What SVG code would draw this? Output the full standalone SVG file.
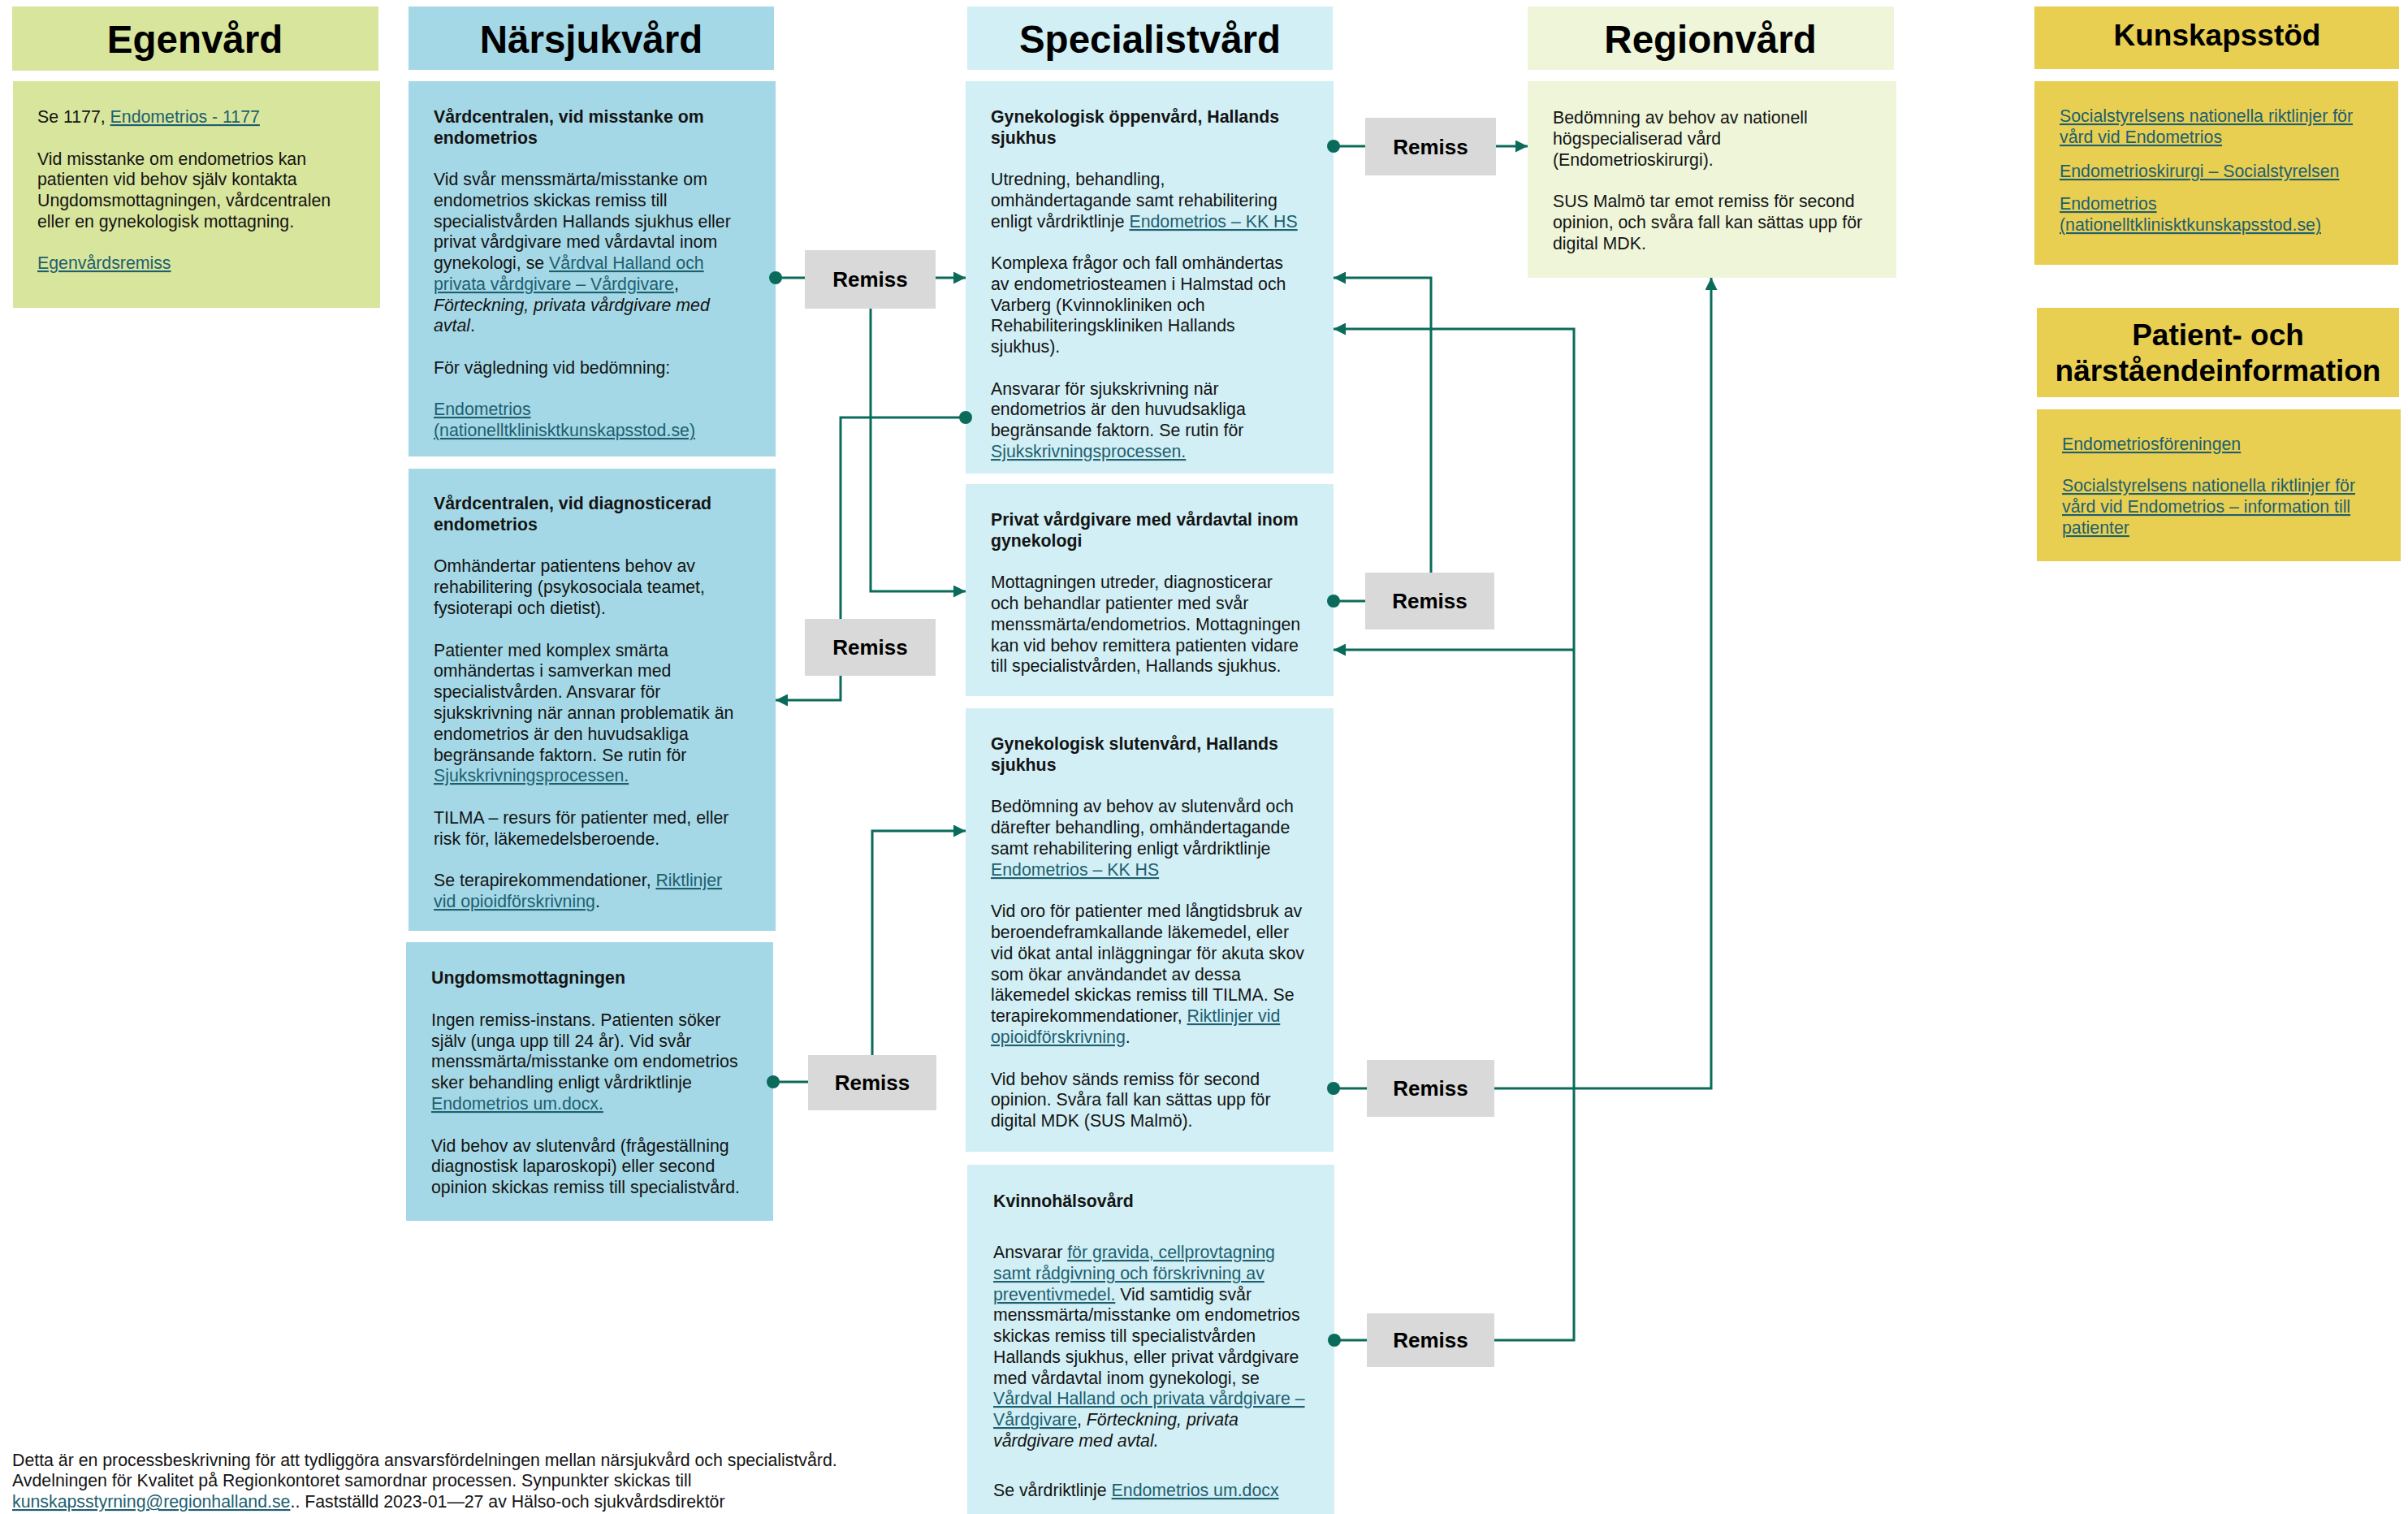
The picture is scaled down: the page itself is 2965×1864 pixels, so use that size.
<svg xmlns="http://www.w3.org/2000/svg" width="2965" height="1864" viewBox="0 0 2965 1864">
<style>
.t{font-family:"Liberation Sans",Arial,sans-serif;font-size:21.3px;fill:#141414}
.b{font-weight:bold}
.i{font-style:italic}
.l{fill:#1E5F70;text-decoration:underline}
.h{font-family:"Liberation Sans",Arial,sans-serif;font-size:47.5px;font-weight:bold;text-anchor:middle;fill:#000}
.h2{font-family:"Liberation Sans",Arial,sans-serif;font-size:37px;font-weight:bold;text-anchor:middle;fill:#000}
.rm{font-family:"Liberation Sans",Arial,sans-serif;font-size:26px;font-weight:bold;text-anchor:middle;fill:#000}
.egen{fill:#D8E59C}
.nar{fill:#A4D8E6}
.spec{fill:#D1EFF5}
.reg{fill:#EEF5D8}
.kun{fill:#E8CF52}
.rbox{fill:#D9D9D9}
.c{stroke:#0B6B5A;stroke-width:3;fill:none}
</style>
<defs>
<marker id="arr" markerUnits="userSpaceOnUse" viewBox="0 0 16 16" refX="16" refY="8" markerWidth="16" markerHeight="15" orient="auto"><path d="M0,0 L16,8 L0,16 z" fill="#0B6B5A"/></marker>
<marker id="dot" markerUnits="userSpaceOnUse" viewBox="0 0 16 16" refX="8" refY="8" markerWidth="16" markerHeight="16"><circle cx="8" cy="8" r="8" fill="#0B6B5A"/></marker>
</defs>
<rect width="2965" height="1864" fill="#fff"/>

<g id="egenvard">
<rect class="egen" x="15" y="8" width="451" height="79"/>
<text class="h" x="240" y="65">Egenvård</text>
<rect class="egen" x="16" y="100" width="452" height="279"/>
<text class="t" x="46" y="151">Se 1177, <tspan class="l">Endometrios - 1177</tspan></text>
<text class="t" x="46" y="203">Vid misstanke om endometrios kan</text>
<text class="t" x="46" y="228">patienten vid behov själv kontakta</text>
<text class="t" x="46" y="254">Ungdomsmottagningen, vårdcentralen</text>
<text class="t" x="46" y="280">eller en gynekologisk mottagning.</text>
<text class="t" x="46" y="331"><tspan class="l">Egenvårdsremiss</tspan></text>
</g>

<g id="narsjukvard">
<rect class="nar" x="503" y="8" width="450" height="78"/>
<text class="h" x="728" y="65">Närsjukvård</text>
</g>

<g id="nar-misstanke">
<rect class="nar" x="503" y="100" width="452" height="462"/>
<text class="t b" x="534" y="151">Vårdcentralen, vid misstanke om</text>
<text class="t b" x="534" y="177">endometrios</text>
<text class="t" x="534" y="228">Vid svår menssmärta/misstanke om</text>
<text class="t" x="534" y="254">endometrios skickas remiss till</text>
<text class="t" x="534" y="280">specialistvården Hallands sjukhus eller</text>
<text class="t" x="534" y="305">privat vårdgivare med vårdavtal inom</text>
<text class="t" x="534" y="331">gynekologi, se <tspan class="l">Vårdval Halland och</tspan></text>
<text class="t" x="534" y="357"><tspan class="l">privata vårdgivare – Vårdgivare</tspan>,</text>
<text class="t i" x="534" y="383">Förteckning, privata vårdgivare med</text>
<text class="t" x="534" y="408"><tspan class="i">avtal</tspan>.</text>
<text class="t" x="534" y="460">För vägledning vid bedömning:</text>
<text class="t" x="534" y="511"><tspan class="l">Endometrios</tspan></text>
<text class="t" x="534" y="537"><tspan class="l">(nationelltklinisktkunskapsstod.se)</tspan></text>
</g>

<g id="nar-diagnosticerad">
<rect class="nar" x="503" y="577" width="452" height="569"/>
<text class="t b" x="534" y="627">Vårdcentralen, vid diagnosticerad</text>
<text class="t b" x="534" y="653">endometrios</text>
<text class="t" x="534" y="704">Omhändertar patientens behov av</text>
<text class="t" x="534" y="730">rehabilitering (psykosociala teamet,</text>
<text class="t" x="534" y="756">fysioterapi och dietist).</text>
<text class="t" x="534" y="808">Patienter med komplex smärta</text>
<text class="t" x="534" y="833">omhändertas i samverkan med</text>
<text class="t" x="534" y="859">specialistvården. Ansvarar för</text>
<text class="t" x="534" y="885">sjukskrivning när annan problematik än</text>
<text class="t" x="534" y="911">endometrios är den huvudsakliga</text>
<text class="t" x="534" y="937">begränsande faktorn. Se rutin för</text>
<text class="t" x="534" y="962"><tspan class="l">Sjukskrivningsprocessen.</tspan></text>
<text class="t" x="534" y="1014">TILMA – resurs för patienter med, eller</text>
<text class="t" x="534" y="1040">risk för, läkemedelsberoende.</text>
<text class="t" x="534" y="1091">Se terapirekommendationer, <tspan class="l">Riktlinjer</tspan></text>
<text class="t" x="534" y="1117"><tspan class="l">vid opioidförskrivning</tspan>.</text>
</g>

<g id="nar-ungdom">
<rect class="nar" x="500" y="1160" width="452" height="343"/>
<text class="t b" x="531" y="1211">Ungdomsmottagningen</text>
<text class="t" x="531" y="1263">Ingen remiss-instans. Patienten söker</text>
<text class="t" x="531" y="1289">själv (unga upp till 24 år). Vid svår</text>
<text class="t" x="531" y="1314">menssmärta/misstanke om endometrios</text>
<text class="t" x="531" y="1340">sker behandling enligt vårdriktlinje</text>
<text class="t" x="531" y="1366"><tspan class="l">Endometrios um.docx.</tspan></text>
<text class="t" x="531" y="1418">Vid behov av slutenvård (frågeställning</text>
<text class="t" x="531" y="1443">diagnostisk laparoskopi) eller second</text>
<text class="t" x="531" y="1469">opinion skickas remiss till specialistvård.</text>
</g>

<g id="specialistvard">
<rect class="spec" x="1191" y="8" width="450" height="78"/>
<text class="h" x="1416" y="65">Specialistvård</text>
</g>

<g id="spec-oppenvard">
<rect class="spec" x="1189" y="100" width="453" height="483"/>
<text class="t b" x="1220" y="151">Gynekologisk öppenvård, Hallands</text>
<text class="t b" x="1220" y="177">sjukhus</text>
<text class="t" x="1220" y="228">Utredning, behandling,</text>
<text class="t" x="1220" y="254">omhändertagande samt rehabilitering</text>
<text class="t" x="1220" y="280">enligt vårdriktlinje <tspan class="l">Endometrios – KK HS</tspan></text>
<text class="t" x="1220" y="331">Komplexa frågor och fall omhändertas</text>
<text class="t" x="1220" y="357">av endometriosteamen i Halmstad och</text>
<text class="t" x="1220" y="383">Varberg (Kvinnokliniken och</text>
<text class="t" x="1220" y="408">Rehabiliteringskliniken Hallands</text>
<text class="t" x="1220" y="434">sjukhus).</text>
<text class="t" x="1220" y="486">Ansvarar för sjukskrivning när</text>
<text class="t" x="1220" y="511">endometrios är den huvudsakliga</text>
<text class="t" x="1220" y="537">begränsande faktorn. Se rutin för</text>
<text class="t" x="1220" y="563"><tspan class="l">Sjukskrivningsprocessen.</tspan></text>
</g>

<g id="spec-privat">
<rect class="spec" x="1189" y="596" width="453" height="261"/>
<text class="t b" x="1220" y="647">Privat vårdgivare med vårdavtal inom</text>
<text class="t b" x="1220" y="673">gynekologi</text>
<text class="t" x="1220" y="724">Mottagningen utreder, diagnosticerar</text>
<text class="t" x="1220" y="750">och behandlar patienter med svår</text>
<text class="t" x="1220" y="776">menssmärta/endometrios. Mottagningen</text>
<text class="t" x="1220" y="802">kan vid behov remittera patienten vidare</text>
<text class="t" x="1220" y="827">till specialistvården, Hallands sjukhus.</text>
</g>

<g id="spec-slutenvard">
<rect class="spec" x="1189" y="872" width="453" height="546"/>
<text class="t b" x="1220" y="923">Gynekologisk slutenvård, Hallands</text>
<text class="t b" x="1220" y="949">sjukhus</text>
<text class="t" x="1220" y="1000">Bedömning av behov av slutenvård och</text>
<text class="t" x="1220" y="1026">därefter behandling, omhändertagande</text>
<text class="t" x="1220" y="1052">samt rehabilitering enligt vårdriktlinje</text>
<text class="t" x="1220" y="1078"><tspan class="l">Endometrios – KK HS</tspan></text>
<text class="t" x="1220" y="1129">Vid oro för patienter med långtidsbruk av</text>
<text class="t" x="1220" y="1155">beroendeframkallande läkemedel, eller</text>
<text class="t" x="1220" y="1181">vid ökat antal inläggningar för akuta skov</text>
<text class="t" x="1220" y="1207">som ökar användandet av dessa</text>
<text class="t" x="1220" y="1232">läkemedel skickas remiss till TILMA. Se</text>
<text class="t" x="1220" y="1258">terapirekommendationer, <tspan class="l">Riktlinjer vid</tspan></text>
<text class="t" x="1220" y="1284"><tspan class="l">opioidförskrivning</tspan>.</text>
<text class="t" x="1220" y="1336">Vid behov sänds remiss för second</text>
<text class="t" x="1220" y="1361">opinion. Svåra fall kan sättas upp för</text>
<text class="t" x="1220" y="1387">digital MDK (SUS Malmö).</text>
</g>

<g id="spec-kvinnohalsovard">
<rect class="spec" x="1191" y="1434" width="452" height="430"/>
<text class="t b" x="1223" y="1486">Kvinnohälsovård</text>
<text class="t" x="1223" y="1549">Ansvarar <tspan class="l">för gravida, cellprovtagning</tspan></text>
<text class="t" x="1223" y="1575"><tspan class="l">samt rådgivning och förskrivning av</tspan></text>
<text class="t" x="1223" y="1601"><tspan class="l">preventivmedel.</tspan> Vid samtidig svår</text>
<text class="t" x="1223" y="1626">menssmärta/misstanke om endometrios</text>
<text class="t" x="1223" y="1652">skickas remiss till specialistvården</text>
<text class="t" x="1223" y="1678">Hallands sjukhus, eller privat vårdgivare</text>
<text class="t" x="1223" y="1704">med vårdavtal inom gynekologi, se</text>
<text class="t" x="1223" y="1729"><tspan class="l">Vårdval Halland och privata vårdgivare –</tspan></text>
<text class="t" x="1223" y="1755"><tspan class="l">Vårdgivare</tspan>, <tspan class="i">Förteckning, privata</tspan></text>
<text class="t i" x="1223" y="1781">vårdgivare med avtal.</text>
<text class="t" x="1223" y="1842">Se vårdriktlinje <tspan class="l">Endometrios um.docx</tspan></text>
</g>

<g id="regionvard">
<rect class="reg" x="1881" y="8" width="451" height="78"/>
<text class="h" x="2106" y="65">Regionvård</text>
<rect class="reg" x="1881" y="100" width="454" height="242"/>
<text class="t" x="1912" y="152">Bedömning av behov av nationell</text>
<text class="t" x="1912" y="178">högspecialiserad vård</text>
<text class="t" x="1912" y="204">(Endometrioskirurgi).</text>
<text class="t" x="1912" y="255">SUS Malmö tar emot remiss för second</text>
<text class="t" x="1912" y="281">opinion, och svåra fall kan sättas upp för</text>
<text class="t" x="1912" y="307">digital MDK.</text>
</g>

<g id="kunskapsstod">
<rect class="kun" x="2505" y="8" width="449" height="77"/>
<text class="h2" x="2730" y="56">Kunskapsstöd</text>
<rect class="kun" x="2505" y="100" width="448" height="226"/>
<text class="t" x="2536" y="150"><tspan class="l">Socialstyrelsens nationella riktlinjer för</tspan></text>
<text class="t" x="2536" y="176"><tspan class="l">vård vid Endometrios</tspan></text>
<text class="t" x="2536" y="218"><tspan class="l">Endometrioskirurgi – Socialstyrelsen</tspan></text>
<text class="t" x="2536" y="258"><tspan class="l">Endometrios</tspan></text>
<text class="t" x="2536" y="284"><tspan class="l">(nationelltklinisktkunskapsstod.se)</tspan></text>
</g>

<g id="patientinformation">
<rect class="kun" x="2508" y="379" width="446" height="110"/>
<text class="h2" x="2731" y="425">Patient- och</text>
<text class="h2" x="2731" y="469">närståendeinformation</text>
<rect class="kun" x="2508" y="504" width="448" height="187"/>
<text class="t" x="2539" y="554"><tspan class="l">Endometriosföreningen</tspan></text>
<text class="t" x="2539" y="605"><tspan class="l">Socialstyrelsens nationella riktlinjer för</tspan></text>
<text class="t" x="2539" y="631"><tspan class="l">vård vid Endometrios – information till</tspan></text>
<text class="t" x="2539" y="657"><tspan class="l">patienter</tspan></text>
</g>

<g id="remiss-1"><rect class="rbox" x="991" y="308" width="161" height="72"/><text class="rm" x="1071.5" y="353">Remiss</text></g>
<g id="remiss-2"><rect class="rbox" x="991" y="762" width="161" height="70"/><text class="rm" x="1071.5" y="806">Remiss</text></g>
<g id="remiss-3"><rect class="rbox" x="995" y="1299" width="158" height="68"/><text class="rm" x="1074" y="1342">Remiss</text></g>
<g id="remiss-4"><rect class="rbox" x="1681" y="145" width="161" height="71"/><text class="rm" x="1761.5" y="190">Remiss</text></g>
<g id="remiss-5"><rect class="rbox" x="1681" y="705" width="159" height="70"/><text class="rm" x="1760.5" y="749">Remiss</text></g>
<g id="remiss-6"><rect class="rbox" x="1683" y="1305" width="157" height="70"/><text class="rm" x="1761.5" y="1349">Remiss</text></g>
<g id="remiss-7"><rect class="rbox" x="1683" y="1617" width="157" height="66"/><text class="rm" x="1761.5" y="1659">Remiss</text></g>

<g id="connectors">
<path class="c" d="M955,342 H991" marker-start="url(#dot)"/>
<path class="c" d="M1152,342 H1189" marker-end="url(#arr)"/>
<path class="c" d="M1072,380 V728 H1189" marker-end="url(#arr)"/>
<path class="c" d="M1189,514 H1035 V762" marker-start="url(#dot)"/>
<path class="c" d="M1035,832 V862 H955" marker-end="url(#arr)"/>
<path class="c" d="M952,1332 H995" marker-start="url(#dot)"/>
<path class="c" d="M1074,1299 V1023 H1189" marker-end="url(#arr)"/>
<path class="c" d="M1642,180 H1681" marker-start="url(#dot)"/>
<path class="c" d="M1842,180 H1881" marker-end="url(#arr)"/>
<path class="c" d="M1642,740 H1681" marker-start="url(#dot)"/>
<path class="c" d="M1762,705 V342 H1642" marker-end="url(#arr)"/>
<path class="c" d="M1642,1340 H1683" marker-start="url(#dot)"/>
<path class="c" d="M1840,1340 H2107 V342" marker-end="url(#arr)"/>
<path class="c" d="M1643,1650 H1683" marker-start="url(#dot)"/>
<path class="c" d="M1840,1650 H1938 V405 H1642" marker-end="url(#arr)"/>
<path class="c" d="M1938,800 H1642" marker-end="url(#arr)"/>
</g>

<g id="footer">
<text class="t" x="15" y="1805">Detta är en processbeskrivning för att tydliggöra ansvarsfördelningen mellan närsjukvård och specialistvård.</text>
<text class="t" x="15" y="1830">Avdelningen för Kvalitet på Regionkontoret samordnar processen. Synpunkter skickas till</text>
<text class="t" x="15" y="1856"><tspan class="l">kunskapsstyrning@regionhalland.se</tspan>.. Fastställd 2023-01—27 av Hälso-och sjukvårdsdirektör</text>
</g>
</svg>
